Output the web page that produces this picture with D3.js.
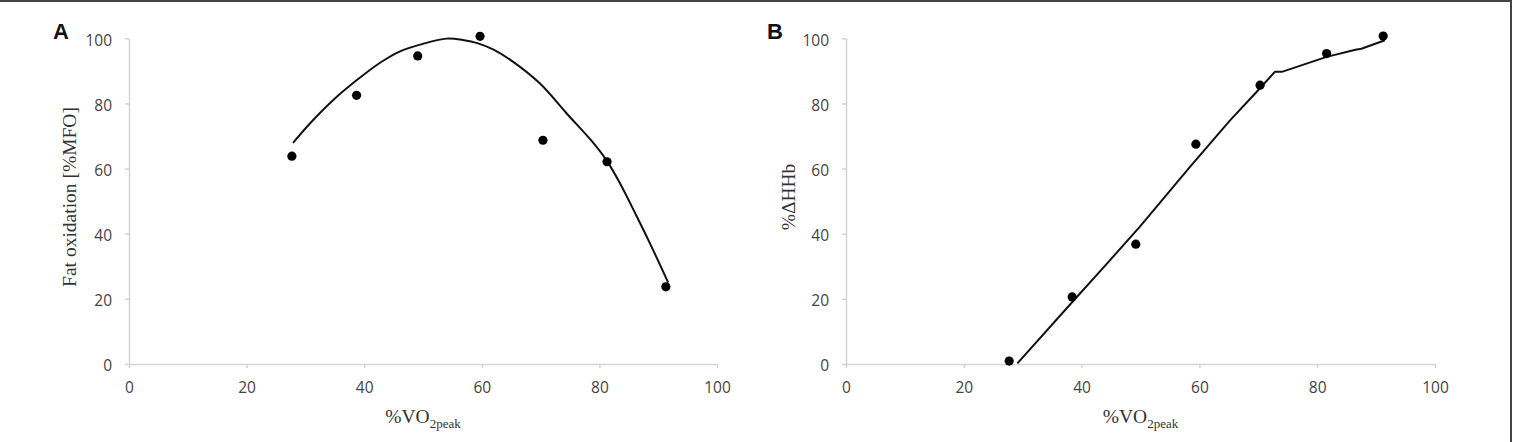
<!DOCTYPE html>
<html>
<head>
<meta charset="utf-8">
<script src="https://cdn.jsdelivr.net/npm/d3@7"></script>
<style>
  html, body { margin: 0; padding: 0; background: #fff; }
  svg { display: block; }
</style>
</head>
<body>
<svg width="1519" height="442"></svg>
<script>
var svg = d3.select('svg');

// tick values shared by both panels
var xTicks = [0, 20, 40, 60, 80, 100];
var yTicks = [0, 20, 40, 60, 80, 100];

// panel A: fat oxidation vs %VO2peak
var fatX = [27.7, 38.7, 49.1, 59.7, 70.4, 81.3, 91.3];
var fatY = [63.8, 82.5, 94.6, 100.6, 68.7, 62.1, 23.7];
// trend line
var fatFitX = [27.9, 31, 34.7, 38.7, 42.7, 46.1, 50, 54, 57, 59.1, 62, 65.4, 69.9, 74.4, 79, 81.3, 83.5, 86.3, 89, 91.7];
var fatFitY = [67.9, 74.3, 81.0, 87.1, 92.5, 96.0, 98.3, 99.9, 99.4, 98.6, 96.5, 92.7, 86.1, 77.0, 67.8, 62.3, 55.5, 45.5, 35.5, 25.0];

// panel B: %ΔHHb vs %VO2peak
var hhbX = [27.7, 38.4, 49.2, 59.4, 70.3, 81.6, 91.2];
var hhbY = [0.9, 20.6, 36.8, 67.5, 85.6, 95.3, 100.7];
var hhbFitX = [29.1, 38.5, 44, 49.9, 58.4, 65.2, 69.7, 72.8, 74, 81.6, 86.5, 87.5, 91.5];
var hhbFitY = [0.2, 19.2, 30.2, 42.2, 60.5, 74.8, 83.5, 89.7, 89.7, 94.3, 96.5, 96.8, 99.4];

var panels = [
    { letter: 'A', x0: 129, x1: 717, letterX: 53, yLabel: 'Fat oxidation [%MFO]', yLabelX: 76,
      xs: fatX, ys: fatY, fx: fatFitX, fy: fatFitY, curve: d3.curveCatmullRom },
    { letter: 'B', x0: 846, x1: 1435, letterX: 767, yLabel: '%ΔHHb', yLabelX: 795,
      xs: hhbX, ys: hhbY, fx: hhbFitX, fy: hhbFitY, curve: d3.curveLinear }
];

var yTop = 38.3, yBottom = 364;

panels.forEach(function(p) {
    var x = d3.scaleLinear().domain([0, 100]).range([p.x0, p.x1]);
    var y = d3.scaleLinear().domain([0, 100]).range([yBottom, yTop]);
    var g = svg.append('g');

    var xAxis = g.append('g')
        .attr('transform', 'translate(0,' + yBottom + ')')
        .call(d3.axisBottom(x).tickValues(xTicks).tickSize(4).tickPadding(14).tickSizeOuter(0));
    var yAxis = g.append('g')
        .attr('transform', 'translate(' + p.x0 + ',0)')
        .call(d3.axisLeft(y).tickValues(yTicks).tickSize(4).tickPadding(13).tickSizeOuter(0));

    [xAxis, yAxis].forEach(function(a) {
        a.select('.domain').attr('stroke', '#d4d4d4').attr('stroke-width', 1.5);
        a.selectAll('.tick line').attr('stroke', '#d4d4d4').attr('stroke-width', 1.5);
        a.selectAll('.tick text')
            .attr('fill', '#444')
            .style('font-family', '"Open Sans", sans-serif')
            .style('font-size', '15.5px');
    });
    yAxis.selectAll('.tick text').attr('dy', '0.45em');

    // fitted line
    var line = d3.line()
        .curve(p.curve)
        .x(function(d) { return x(d[0]); })
        .y(function(d) { return y(d[1]); });
    g.append('path')
        .datum(p.fx.map(function(v, i) { return [v, p.fy[i]]; }))
        .attr('d', line)
        .attr('fill', 'none')
        .attr('stroke', '#111')
        .attr('stroke-width', 2)
        .attr('stroke-linejoin', 'round');

    // data points
    g.selectAll('circle')
        .data(p.xs.map(function(v, i) { return [v, p.ys[i]]; }))
        .enter()
        .append('circle')
        .attr('cx', function(d) { return x(d[0]); })
        .attr('cy', function(d) { return y(d[1]); })
        .attr('r', 4.6)
        .attr('fill', '#000');

    // panel letter
    g.append('text')
        .attr('x', p.letterX)
        .attr('y', 39)
        .style('font-family', '"Liberation Sans", Arial, sans-serif')
        .style('font-weight', 'bold')
        .style('font-size', '22px')
        .attr('fill', '#111')
        .text(p.letter);

    // y axis title
    g.append('text')
        .attr('transform', 'translate(' + p.yLabelX + ',197) rotate(-90)')
        .attr('text-anchor', 'middle')
        .style('font-family', '"Liberation Serif", "Times New Roman", serif')
        .style('font-size', '19.5px')
        .attr('fill', '#333')
        .text(p.yLabel);

    // x axis title with subscript
    var xt = g.append('text')
        .attr('x', (p.x0 + p.x1) / 2)
        .attr('y', 423)
        .attr('text-anchor', 'middle')
        .style('font-family', '"Liberation Serif", "Times New Roman", serif')
        .style('font-size', '19.5px')
        .attr('fill', '#333');
    xt.append('tspan').text('%VO');
    xt.append('tspan').attr('dy', 5).style('font-size', '13px').text('2peak');
});

// frame: top and right border
svg.append('line').attr('x1', 0).attr('y1', 1).attr('x2', 1512).attr('y2', 1)
    .attr('stroke', '#444').attr('stroke-width', 2);
svg.append('line').attr('x1', 1511).attr('y1', 0).attr('x2', 1511).attr('y2', 442)
    .attr('stroke', '#444').attr('stroke-width', 2);
</script>
</body>
</html>
